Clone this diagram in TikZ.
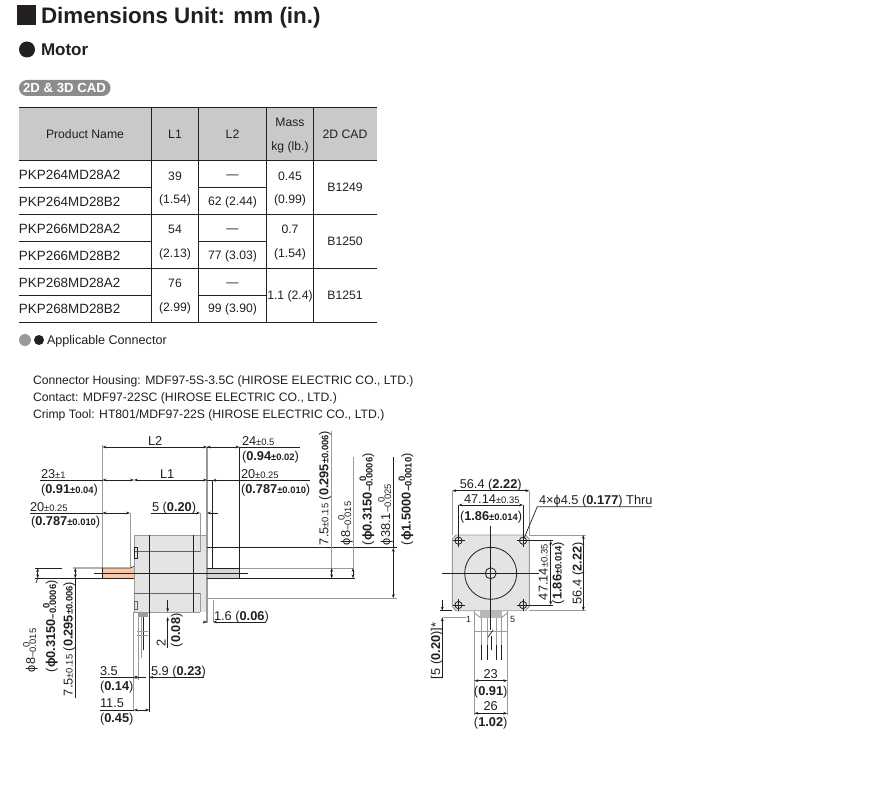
\documentclass[tikz,border=0pt]{standalone}
\usepackage{fontspec}
\setmainfont{Liberation Sans}
\usetikzlibrary{arrows.meta}
\definecolor{hdr}{HTML}{C9C9C9}
\definecolor{body}{HTML}{E4E4E4}
\definecolor{ext}{HTML}{9A9A9A}
\definecolor{salmon}{HTML}{F6C6A6}
\definecolor{pill}{HTML}{8C8C8C}
\definecolor{ink}{HTML}{231F20}
\newcommand\dimf{\fontsize{12.8}{14}\selectfont}
\newcommand\tolf{\fontsize{9.4}{10}\selectfont}
\newcommand\tl[1]{{\tolf #1}}
\newcommand\bt[1]{{\tolf\bfseries #1}}
\newcommand\stk[1]{\mbox{\tolf\raisebox{5.5pt}{\makebox[0pt][l]{\hspace{1.1em}0}}\raisebox{-1pt}{−#1}}}
\newcommand\bstk[1]{\mbox{\tolf\bfseries\raisebox{5.5pt}{\makebox[0pt][l]{\hspace{1.1em}0}}\raisebox{-1pt}{−#1}}}
\newcommand\ph{ϕ}
\tikzset{
  txt/.style={inner sep=0pt,outer sep=0pt,anchor=base west,text=ink,font=\dimf},
  mid/.style={inner sep=0pt,outer sep=0pt,anchor=base,text=ink,font=\dimf},
  rot/.style={inner sep=0pt,outer sep=0pt,anchor=base west,rotate=90,text=ink,font=\dimf},
  rotc/.style={inner sep=0pt,outer sep=0pt,anchor=base,rotate=90,text=ink,font=\dimf},
  cell/.style={inner sep=0pt,outer sep=0pt,anchor=base,text=ink,font=\fontsize{12.2}{13}\selectfont},
  pname/.style={inner sep=0pt,outer sep=0pt,anchor=base west,text=ink,font=\fontsize{13.4}{14}\selectfont},
  para/.style={inner sep=0pt,outer sep=0pt,anchor=base west,text=ink,font=\fontsize{12.2}{14}\selectfont},
  rule/.style={draw=ink,line width=0.9pt},
  dimline/.style={draw=ink,line width=0.7pt,>={Stealth[length=4pt,width=2.8pt]},<->},
  leader/.style={draw=ink,line width=0.7pt},
  extline/.style={draw=ext,line width=0.9pt},
  heavy/.style={draw=ink,line width=0.8pt},
  thickgray/.style={draw=ext,line width=1.4pt}
}
\begin{document}
\begin{tikzpicture}[x=1pt,y=-1pt]
\useasboundingbox (0,0) rectangle (894,797);
\fill[white] (0,0) rectangle (894,797);
% headings
\fill[ink] (16.5,5.5) rectangle (36,25);
\node[txt,font=\fontsize{22.4}{26}\selectfont\bfseries] (title) at (41,24) {Dimensions Unit: mm (in.)};
\fill[ink] (27,49.5) circle (8);
\node[txt,font=\fontsize{17}{20}\selectfont\bfseries] (motor) at (41,56) {Motor};
\fill[pill,rounded corners=7.9pt] (19,80) rectangle (110.5,96);
\node[inner sep=0pt,text=white,font=\fontsize{13.2}{15}\selectfont\bfseries] (cad) at (64.5,88) {2D \& 3D CAD};
% table
\fill[hdr] (19,107.5) rectangle (377,160.5);
\foreach \yy in {107.5,160.5,214.5,268,322} {\draw[rule] (19,\yy) -- (377,\yy);}
\foreach \yy in {187.5,241,295} {\draw[rule] (19,\yy) -- (151.5,\yy); \draw[rule] (198.5,\yy) -- (266.5,\yy);}
\foreach \xx in {151.5,198.5,266.5,313.5} {\draw[rule] (\xx,107.5) -- (\xx,322);}
\node[cell] (h1) at (85,138.5) {Product Name};
\node[cell] (h2) at (175,138.5) {L1};
\node[cell] (h3) at (232.5,138.5) {L2};
\node[cell] (h4a) at (290,127) {Mass};
\node[cell] (h4b) at (290,150) {kg (lb.)};
\node[cell] (h5) at (345,138.5) {2D CAD};
\node[pname] (p1) at (19,179) {PKP264MD28A2};
\node[pname] (p2) at (19,206) {PKP264MD28B2};
\node[pname] (p3) at (19,233) {PKP266MD28A2};
\node[pname] (p4) at (19,260) {PKP266MD28B2};
\node[pname] (p5) at (19,287) {PKP268MD28A2};
\node[pname] (p6) at (19,313) {PKP268MD28B2};
\node[cell] (a1) at (175,180.5) {39};
\node[cell] (a2) at (175,203.5) {(1.54)};
\node[cell] (a3) at (175,233.5) {54};
\node[cell] (a4) at (175,257) {(2.13)};
\node[cell] (a5) at (175,287.5) {76};
\node[cell] (a6) at (175,311) {(2.99)};
\node[cell] (b1) at (232.5,178) {—};
\node[cell] (b2) at (232.5,205.5) {62 (2.44)};
\node[cell] (b3) at (232.5,232) {—};
\node[cell] (b4) at (232.5,259.5) {77 (3.03)};
\node[cell] (b5) at (232.5,286) {—};
\node[cell] (b6) at (232.5,312.5) {99 (3.90)};
\node[cell] (c1) at (290,180.5) {0.45};
\node[cell] (c2) at (290,203.5) {(0.99)};
\node[cell] (c3) at (290,233.5) {0.7};
\node[cell] (c4) at (290,257) {(1.54)};
\node[cell] (c5) at (290,299) {1.1 (2.4)};
\node[cell] (d1) at (345,191.5) {B1249};
\node[cell] (d2) at (345,245) {B1250};
\node[cell] (d3) at (345,299) {B1251};
% connector note
\fill[ext] (25,340) circle (6);
\fill[ink] (39,340) circle (5);
\node[para,font=\fontsize{12.6}{14}\selectfont] (app) at (47,344.5) {Applicable Connector};
\node[para] (n1) at (33,384) {Connector Housing: MDF97-5S-3.5C (HIROSE ELECTRIC CO., LTD.)};
\node[para] (n2) at (33,401) {Contact: MDF97-22SC (HIROSE ELECTRIC CO., LTD.)};
\node[para] (n3) at (33,418) {Crimp Tool: HT801/MDF97-22S (HIROSE ELECTRIC CO., LTD.)};
% side view: shapes
\fill[body] (134,535) rectangle (207,612);
\fill[salmon] (102.5,568) rectangle (134,578.3);
\fill[hdr!75] (207,568) rectangle (239.5,578.3);
\draw[extline] (134,612) -- (134,535) -- (207,535);
\draw[heavy,draw=ink!70] (134,551.7) -- (200,551.7) (134,593.3) -- (200,593.3);
\draw[extline] (200,513) -- (200,552) (200,593) -- (200,612) (134,612) -- (200,612);
\draw[heavy] (149.3,535) -- (149.3,711.7) (193.3,535) -- (193.3,612);
\draw[thickgray] (207,447) -- (207,623);
\draw[extline] (102.5,445) -- (102.5,578) (130,513) -- (130,567);
\draw[extline] (133.8,612) -- (133.8,711);
\draw[heavy] (134,547.7) rectangle (137.5,558);
\draw[heavy,draw=ink!70] (134,601) rectangle (137.5,609);
\draw[leader] (94,573.3) -- (248,573.3);
\draw[leader] (35,578.3) -- (102.5,578.3) -- (134,578.3) (207,578.3) -- (355,578.3);
\draw[leader] (73,568) -- (130,568) -- (134,566.5);
\draw[leader] (35,568) -- (62,568);
\draw[leader] (207,568) -- (239.5,568);
\draw[extline] (239.5,568) -- (354,568);
\draw[leader] (102.5,578.3) -- (102.5,568);
\draw[leader] (207,547.7) -- (397,547.7);
\draw[extline] (207,598.3) -- (397,598.3);
\draw[leader] (212.3,480) -- (212.3,568);
\draw[leader] (239.5,447) -- (239.5,578.3);
\draw[extline] (331.7,431) -- (331.7,578) (353,457) -- (353,568);
\draw[leader] (393.3,457) -- (393.3,547.7);
\draw[extline] (213,600) -- (213,622);
% side view: connector
\fill[ext] (138,612) rectangle (148,617);
\draw[extline] (138.3,612) -- (138.3,680);
\draw[extline] (141.5,617) -- (141.5,658);
\draw[leader] (143.3,617) -- (143.3,650);
\draw[extline] (137,631.7) -- (148,631.7) (137,635.5) -- (148,635.5);
% side view: dimensions
\draw[dimline] (102.5,447) -- (207,447);
\draw[leader] (207,447) -- (211,447);
\draw[dimline] (134,480) -- (207,480);
\draw[leader] (207,480) -- (212,480);
\draw[dimline] (102.5,480) -- (134,480);
\draw[leader] (40,480) -- (102.5,480);
\draw[dimline] (102.5,513) -- (130,513);
\draw[leader] (30,513) -- (102.5,513);
\draw[leader,->,>={Stealth[length=4pt,width=2.8pt]}] (151,513) -- (200,513);
\draw[leader,->,>={Stealth[length=4pt,width=2.8pt]}] (218,513) -- (207,513);
\draw[dimline] (207,447) -- (239.5,447);
\draw[leader] (239.5,447) -- (300,447);
\draw[leader,<-,>={Stealth[length=4pt,width=2.8pt]}] (212.3,480.3) -- (310,480.3);
\draw[dimline] (331.7,568) -- (331.7,578.3);
\draw[dimline] (353,568) -- (353,578.3);
\draw[dimline] (393.3,547.7) -- (393.3,598.3);
\draw[leader,->,>={Stealth[length=4pt,width=2.8pt]}] (203,622) -- (207,622);
\draw[leader,<-,>={Stealth[length=4pt,width=2.8pt]}] (213,622) -- (266,622);
\draw[dimline] (37.7,568) -- (37.7,578.3);
\draw[leader] (37.7,578.3) -- (36,583);
\draw[dimline] (75.3,568) -- (75.3,578.3);
\draw[leader] (75.3,578.3) -- (75.3,698);
\draw[leader] (100,677.3) -- (133.8,677.3);
\draw[dimline] (133.8,677.3) -- (138.3,677.3);
\draw[leader] (138.3,677.3) -- (146,677.3);
\draw[leader,<-,>={Stealth[length=4pt,width=2.8pt]}] (149.3,677.3) -- (204,677.3);
\draw[leader] (100,710) -- (133.8,710);
\draw[dimline] (133.8,710) -- (149.3,710);
\draw[leader,->,>={Stealth[length=4pt,width=2.8pt]}] (167.7,600) -- (167.7,612);
\draw[leader,<-,>={Stealth[length=4pt,width=2.8pt]}] (167.7,617) -- (167.7,648);
% side view: labels
\node[txt] (tl2) at (148,445) {L2};
\node[txt] (tl1) at (160,478) {L1};
\node[txt] (t23) at (41,478) {23\tl{±1}};
\node[txt] (t091) at (41,493) {(\textbf{0.91}\bt{±0.04})};
\node[txt] (t20) at (30,511) {20\tl{±0.25}};
\node[txt] (t0787) at (31,525.5) {(\textbf{0.787}\bt{±0.010})};
\node[txt] (t5) at (152,511) {5 (\textbf{0.20})};
\node[txt] (t24) at (242,445) {24\tl{±0.5}};
\node[txt] (t094) at (242,460) {(\textbf{0.94}\bt{±0.02})};
\node[txt] (t20b) at (241,478) {20\tl{±0.25}};
\node[txt] (t0787b) at (241,493) {(\textbf{0.787}\bt{±0.010})};
\node[rot] (r1) at (328.3,545) {7.5\tl{±0.15} (\textbf{0.295}\bt{±0.006})};
\node[rot] (r2) at (350,545) {\ph 8\stk{0.015}};
\node[rot] (r3) at (371.7,545) {(\textbf{\ph0.3150}\bstk{0.0006})};
\node[rot] (r4) at (390,545) {\ph 38.1\stk{0.025}};
\node[rot] (r5) at (410.7,545) {(\textbf{\ph1.5000}\bstk{0.0010})};
\node[txt] (t16) at (214,620) {1.6 (\textbf{0.06})};
\node[rot] (l1) at (35,672) {\ph 8\stk{0.015}};
\node[rot] (l2) at (55,672) {(\textbf{\ph0.3150}\bstk{0.0006})};
\node[rot] (l3) at (72.7,696) {7.5\tl{±0.15} (\textbf{0.295}\bt{±0.006})};
\node[txt] (t35) at (100,675) {3.5};
\node[txt] (t014) at (100,690.7) {(\textbf{0.14})};
\node[txt] (t59) at (151,675) {5.9 (\textbf{0.23})};
\node[txt] (t115) at (100,707.7) {11.5};
\node[txt] (t045) at (100,722) {(\textbf{0.45})};
\node[rotc] (t2) at (165.7,643) {2};
\node[rot] (t008) at (180,647) {(\textbf{0.08})};
% front view
\fill[body,draw=ext,line width=0.9pt] (456,535) -- (525.5,535) -- (529.3,539) -- (529.3,606.5) -- (525.5,610.7) -- (456,610.7) -- (452.3,606.5) -- (452.3,539) -- cycle;
\draw[heavy] (490.7,573.3) circle (26);
\draw[heavy] (490.7,573.3) circle (5.5);
\foreach \hx/\hy in {458.5/540.7,523/540.7,458.5/605,523/605} {
  \draw[heavy] (\hx,\hy) circle (3.6);
  \draw[heavy] (\hx-6,\hy) -- (\hx+6,\hy) (\hx,\hy-6) -- (\hx,\hy+6);
}
\draw[leader] (442.3,573.3) -- (539.3,573.3);
\draw[extline] (452.3,490.7) -- (452.3,535) (529.3,490.7) -- (529.3,535);
\draw[leader] (458.5,505) -- (458.5,535) (523,505) -- (523,535);
\draw[extline] (529.3,535) -- (586,535) (529.3,610.7) -- (586,610.7);
\draw[leader] (523,540.7) -- (553,540.7) (523,605) -- (553,605);
\draw[dimline] (452.3,490.7) -- (529.3,490.7);
\draw[dimline] (458.5,505) -- (523,505);
\draw[dimline] (583.3,535) -- (583.3,610.7);
\draw[dimline] (550.7,540.7) -- (550.7,605);
\draw[leader] (523,540.7) -- (537.3,506.7) -- (651.7,506.7);
\node[mid] (f1) at (490.7,488) {56.4 (\textbf{2.22})};
\node[txt] (f2) at (464,503) {47.14\tl{±0.35}};
\node[txt] (f3) at (460,520) {(\textbf{1.86}\bt{±0.014})};
\node[rot] (f4) at (547.7,600) {47.14\tl{±0.35}};
\node[rot] (f5) at (561.7,604) {(\textbf{1.86}\bt{±0.014})};
\node[rotc] (f6) at (581.7,573.3) {56.4 (\textbf{2.22})};
\node[txt] (f7) at (539,504) {4×\ph 4.5 (\textbf{0.177}) Thru};
% front view: connector
\fill[ext!70] (480,611) rectangle (501.7,618);
\draw[extline] (474.3,611) -- (474.3,715) (507.3,611) -- (507.3,715);
\draw[extline] (474.3,613) -- (481,618) (507.3,613) -- (501,618);
\draw[extline] (481,618) -- (481,650) (487,618) -- (487,650) (496,618) -- (496,650) (501,618) -- (501,650);
\draw[leader] (481,645) -- (481,660) (487,645) -- (487,660) (496,645) -- (496,660) (501,645) -- (501,660);
\draw[extline] (474.3,631.5) -- (507.3,631.5);
\draw[leader] (490.7,526) -- (490.7,630);
\draw[leader] (488,637) -- (493,630);
\draw[leader] (491,636) -- (491,650);
\draw[leader] (440,610.7) -- (452.3,610.7);
\draw[extline] (443,617.3) -- (466,617.3);
\draw[leader,->,>={Stealth[length=4pt,width=2.8pt]}] (442.3,600) -- (442.3,610.7);
\draw[leader,<-,>={Stealth[length=4pt,width=2.8pt]}] (442.3,617.3) -- (442.3,678);
\draw[dimline] (474.3,680.7) -- (507.3,680.7);
\draw[dimline] (474.3,713.3) -- (507.3,713.3);
\node[txt,font=\fontsize{9}{10}\selectfont] (n1p) at (466,622.5) {1};
\node[txt,font=\fontsize{9}{10}\selectfont] (n5p) at (510,622.5) {5};
\node[rot] (f8) at (440,679) {[5 (\textbf{0.20})]*};
\node[mid] (f9) at (490.7,678) {23};
\node[mid] (f10) at (490.7,695) {(\textbf{0.91})};
\node[mid] (f11) at (490.7,710.7) {26};
\node[mid] (f12) at (490.7,726.7) {(\textbf{1.02})};
\end{tikzpicture}
\end{document}
